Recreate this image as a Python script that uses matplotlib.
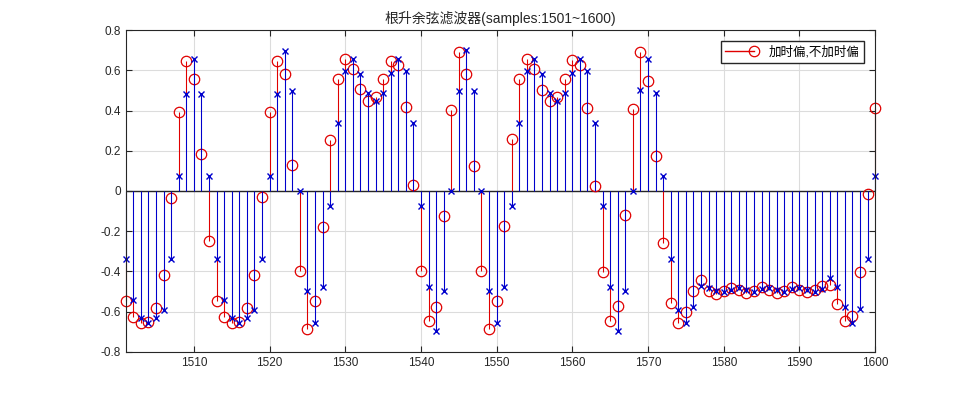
import numpy as np
import matplotlib
matplotlib.use("Agg")
import matplotlib.pyplot as plt
from matplotlib.lines import Line2D
from matplotlib.legend_handler import HandlerBase

plt.rcParams['font.family'] = ['Liberation Sans', 'Noto Sans CJK SC', 'DejaVu Sans']

samples = np.arange(1501, 1601)

# red: with timing offset
red_vals = [
    -0.55, -0.625, -0.658, -0.65, -0.583, -0.42, -0.035, 0.395, 0.646, 0.555,
    0.185, -0.248, -0.55, -0.625, -0.655, -0.65, -0.583, -0.42, -0.032, 0.395,
    0.646, 0.58, 0.131, -0.397, -0.688, -0.55, -0.181, 0.254, 0.555, 0.658,
    0.605, 0.505, 0.447, 0.467, 0.558, 0.646, 0.626, 0.417, 0.03, -0.40,
    -0.646, -0.575, -0.126, 0.404, 0.693, 0.58, 0.126, -0.40, -0.688, -0.547,
    -0.176, 0.259, 0.555, 0.658, 0.605, 0.502, 0.447, 0.467, 0.558, 0.65,
    0.625, 0.414, 0.023, -0.405, -0.646, -0.572, -0.118, 0.409, 0.693, 0.547,
    0.173, -0.259, -0.555, -0.655, -0.603, -0.50, -0.442, -0.497, -0.512, -0.50,
    -0.484, -0.495, -0.508, -0.50, -0.48, -0.495, -0.508, -0.50, -0.48, -0.492,
    -0.505, -0.495, -0.475, -0.467, -0.562, -0.646, -0.62, -0.405, -0.015, 0.414,
]

# blue: without timing offset
blue_vals = [
    -0.337, -0.545, -0.633, -0.655, -0.633, -0.59, -0.337, 0.075, 0.483, 0.658,
    0.483, 0.075, -0.337, -0.545, -0.633, -0.658, -0.633, -0.59, -0.337, 0.075,
    0.483, 0.696, 0.497, 0.0, -0.497, -0.655, -0.48, -0.073, 0.339, 0.597,
    0.655, 0.583, 0.485, 0.447, 0.485, 0.588, 0.658, 0.597, 0.339, -0.073,
    -0.48, -0.696, -0.497, 0.0, 0.497, 0.70, 0.497, 0.0, -0.497, -0.655,
    -0.48, -0.073, 0.339, 0.597, 0.655, 0.583, 0.485, 0.447, 0.485, 0.588,
    0.658, 0.597, 0.339, -0.073, -0.48, -0.696, -0.497, 0.0, 0.50, 0.658,
    0.485, 0.076, -0.337, -0.59, -0.655, -0.578, -0.475, -0.484, -0.50, -0.505,
    -0.492, -0.484, -0.495, -0.505, -0.489, -0.484, -0.495, -0.505, -0.489, -0.484,
    -0.492, -0.505, -0.489, -0.434, -0.479, -0.578, -0.655, -0.588, -0.337, 0.076,
]

title = '根升余弦滤波器(samples:1501~1600)'
legend_label = '加时偏,不加时偏'
xticks = [1510, 1520, 1530, 1540, 1550, 1560, 1570, 1580, 1590, 1600]
yticks = [-0.8, -0.6, -0.4, -0.2, 0, 0.2, 0.4, 0.6, 0.8]
ytick_labels = ['-0.8', '-0.6', '-0.4', '-0.2', '0', '0.2', '0.4', '0.6', '0.8']

fig = plt.figure(figsize=(9.67, 3.97), dpi=100)
ax = fig.add_axes([0.13, 0.114, 0.775, 0.81])

red_c = '#e00000'
blue_c = '#0000cc'

r = np.asarray(red_vals)
b = np.asarray(blue_vals)
# red stems: only the part not hidden behind the blue stem at the same sample
same_sign = np.sign(r) == np.sign(b)
red_start = np.where(same_sign, np.where(np.abs(r) > np.abs(b), b, r), 0.0)
ax.vlines(samples, red_start, r, colors=red_c, linewidth=0.78, zorder=2.0,
          clip_on=False)
ax.plot(samples, r, linestyle='none', marker='o', markerfacecolor='none',
        markeredgecolor=red_c, markersize=7.5, markeredgewidth=0.9, zorder=2.1,
        clip_on=False)

m2, s2, b2 = ax.stem(samples, b, linefmt='-', markerfmt='x', basefmt=' ')
plt.setp(s2, color=blue_c, linewidth=0.78, zorder=2.2, clip_on=False)
plt.setp(m2, markeredgecolor=blue_c, markersize=5, markeredgewidth=1.0, zorder=2.3,
         clip_on=False)

ax.axhline(0, color='#262626', linewidth=1.0, zorder=1.5)

ax.set_xlim(1501, 1600)
ax.set_ylim(-0.8, 0.8)
ax.set_xticks(xticks)
ax.set_yticks(yticks)
ax.set_yticklabels(ytick_labels)
ax.grid(True, color='#dcdcdc', linewidth=0.8)
ax.set_axisbelow(True)
ax.tick_params(direction='in', top=True, right=True, labelsize=8.5, colors='#262626',
               length=4, width=0.8)
for sp in ax.spines.values():
    sp.set_color('#262626')
    sp.set_linewidth(0.8)
    sp.set_zorder(3)

ax.set_title(title, fontsize=10, color='#262626', pad=5)


class StemHandler(HandlerBase):
    def create_artists(self, legend, orig_handle, xdescent, ydescent, width,
                       height, fontsize, trans):
        y = height / 2 - ydescent
        ln = Line2D([-xdescent, width - xdescent], [y, y], color=red_c, linewidth=1.0)
        mk = Line2D([width - xdescent], [y], marker='o', markerfacecolor='none',
                    markeredgecolor=red_c, markersize=7.5, markeredgewidth=0.9,
                    linestyle='none')
        ln.set_transform(trans)
        mk.set_transform(trans)
        return [ln, mk]


proxy = Line2D([], [], color=red_c)
ax.legend([proxy], [legend_label], handler_map={proxy: StemHandler()},
          loc='upper right', fontsize=9, frameon=True, fancybox=False,
          edgecolor='#262626', framealpha=1, borderaxespad=0.9,
          handlelength=2.3, handletextpad=1.2, borderpad=0.35)

fig.savefig('out.png', dpi=100, facecolor='white')
